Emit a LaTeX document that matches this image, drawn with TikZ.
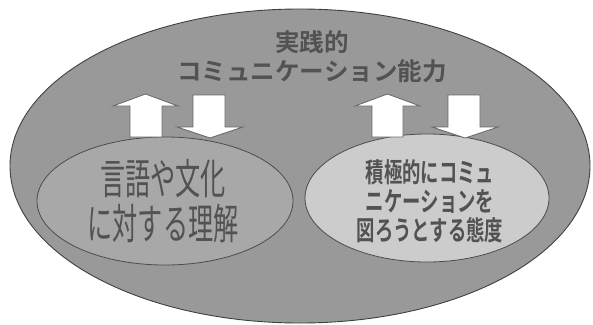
\documentclass[tikz,border=0pt]{standalone}
\usepackage{fontspec}
\newfontfamily\jp{Noto Sans CJK JP}
\newfontfamily\jpb{Noto Sans CJK JP Bold}
\begin{document}
\begin{tikzpicture}[x=1pt,y=-1pt,
  outerell/.style={draw=black!75,line width=0.9pt,fill=black!40},
  leftell/.style={draw=black!70,line width=0.8pt,fill=black!34},
  rightell/.style={draw=black!70,line width=0.8pt,fill=black!20},
  blockarrow/.style={draw=black!60,line width=0.8pt,fill=white,line join=miter},
  lbl/.style={text=black!68,align=center,inner sep=0pt}]
\useasboundingbox (0,0) rectangle (593,324);
\fill[white] (0,0) rectangle (593,324);
\draw[outerell] (300,166) ellipse [x radius=290, y radius=157];
\node[lbl,font=\jpb\fontsize{24.5}{29}\selectfont] (title) at (312,57) {実践的\\コミュニケーション能力};
\draw[leftell] (165,201) ellipse [x radius=128, y radius=64];
\draw[rightell] (427,198) ellipse [x radius=122, y radius=64];
\node[lbl,font=\jp\fontsize{42}{44.5}\selectfont,xscale=0.6,transform shape] (left) at (163,201) {言語や文化\\に対する理解};
\node[lbl,font=\jpb\fontsize{27}{29}\selectfont,xscale=0.68,transform shape] (right) at (430,201) {積極的にコミュ\\ニケーションを\\図ろうとする態度};
% block arrows (left pair)
\draw[blockarrow] (130,137) -- (130,106) -- (113,106) -- (145.5,94) -- (178,106) -- (162,106) -- (162,137) -- cycle;
\draw[blockarrow] (193,95) -- (225,95) -- (225,127) -- (243,127) -- (210,138) -- (177,127) -- (193,127) -- cycle;
% block arrows (right pair)
\draw[blockarrow] (372,137) -- (372,106) -- (355,106) -- (387.5,94) -- (420,106) -- (403,106) -- (403,137) -- cycle;
\draw[blockarrow] (448,95) -- (480,95) -- (480,127) -- (498,127) -- (465,138) -- (432,127) -- (448,127) -- cycle;
\end{tikzpicture}
\end{document}
